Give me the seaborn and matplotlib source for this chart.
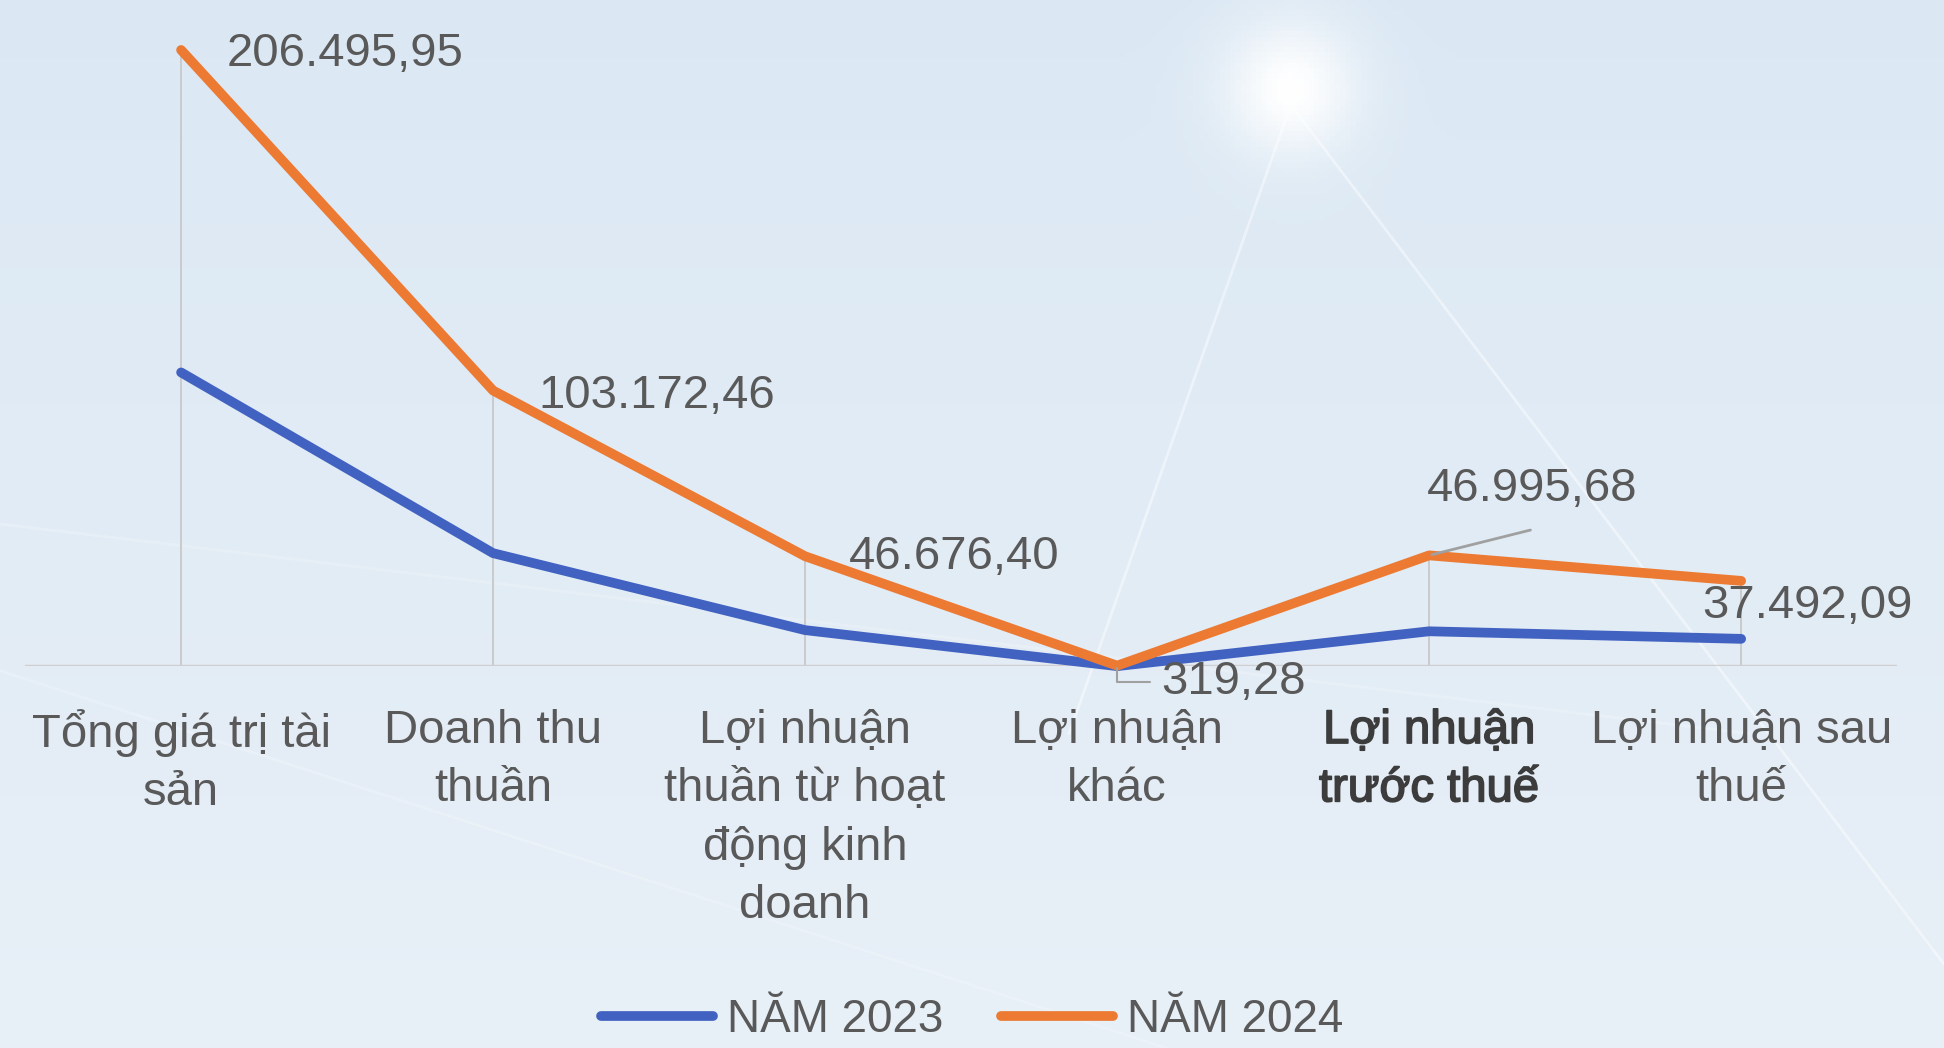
import numpy as np
import pandas as pd
import matplotlib
matplotlib.use("Agg")
import matplotlib.pyplot as plt
import matplotlib.patheffects as pe
import seaborn as sns
from matplotlib.lines import Line2D

# chart data
categories = [
    "Tổng giá trị tài\nsản",
    "Doanh thu\nthuần",
    "Lợi nhuận\nthuần từ hoạt\nđộng kinh\ndoanh",
    "Lợi nhuận\nkhác",
    "Lợi nhuận\ntrước thuế",
    "Lợi nhuận sau\nthuế",
]
values_2023 = [109000, 47800, 17800, -150, 17300, 14000]
values_2024 = [206495.95, 103172.46, 46676.40, 319.28, 46995.68, 37492.09]
series_names = ["NĂM 2023", "NĂM 2024"]
label_texts = ["206.495,95", "103.172,46", "46.676,40", "319,28", "46.995,68", "37.492,09"]

df = pd.DataFrame({
    "cat": categories * 2,
    "value": values_2023 + values_2024,
    "year": [series_names[0]] * 6 + [series_names[1]] * 6,
})

sns.set_style("white")
plt.rcParams["font.family"] = ["Liberation Sans", "DejaVu Sans"]

fig = plt.figure(figsize=(19.44, 10.48), dpi=100)

# soft light-blue background with a glow and faint light streaks
bg = fig.add_axes([0, 0, 1, 1], zorder=-5)
yy, xx = np.mgrid[0:1:200j, 0:1:370j]
top_col = np.array([0.86, 0.91, 0.955])
bot_col = np.array([0.91, 0.94, 0.97])
base = top_col + (bot_col - top_col) * yy[..., None]
glow = np.exp(-(((xx - 0.664) * 1.85) ** 2 + (yy - 0.083) ** 2) / 0.004)
base = base + (1 - base) * glow[..., None]
bg.imshow(base, extent=[0, 1, 0, 1], origin="upper", aspect="auto")
bg.set_axis_off()
for (x0, y0, x1, y1, a) in [(0.664, 0.90, 0.55, 0.30, 0.45), (0.664, 0.90, 1.0, 0.08, 0.45),
                             (0.0, 0.50, 0.9, 0.30, 0.2), (0.0, 0.36, 0.6, 0.0, 0.2)]:
    fig.add_artist(Line2D([x0, x1], [y0, y1], color="white", lw=2, alpha=a, zorder=-4))

ax = fig.add_axes([0.0129, 0.3645, 0.963, 0.5994])
ax.set_facecolor("none")

palette = {series_names[0]: "#4262c2", series_names[1]: "#ec7a32"}
sns.lineplot(data=df, x="cat", y="value", hue="year", palette=palette, sort=False,
             linewidth=7, ax=ax, legend=False, clip_on=False, zorder=3)

# value axis as drawn in the original graphic (slightly compressed at the low end)
p = 1.16
ax.set_yscale("function", functions=(lambda v: np.sign(v) * np.abs(v) ** p,
                                     lambda v: np.sign(v) * np.abs(v) ** (1 / p)))

# drop lines
tops = [max(a, b) for a, b in zip(values_2023, values_2024)]
ax.vlines(range(len(categories)), 0, tops, color="#c8c8c8", lw=1.3, zorder=1)
ax.axhline(0, color="#cfcfcf", lw=2.5, zorder=2)

ax.set_xlim(-0.5, 5.5)
ax.set_ylim(0, 210000)
ax.set_xticks(range(len(categories)))
ax.set_xticklabels(categories, fontsize=34, color="#595959", linespacing=1.42)
lbl = ax.get_xticklabels()[4]
lbl.set_color("#3c3c3c")
lbl.set_path_effects([pe.withStroke(linewidth=1.2, foreground="#3c3c3c")])
ax.tick_params(axis="x", length=0, pad=31)
ax.set_yticks([])
ax.set_xlabel("")
ax.set_ylabel("")
for s in ax.spines.values():
    s.set_visible(False)

# data labels for 2024
offsets = [(46, -4), (45, -5), (44, -1), (44, -16), (-2, 66), (-39, -25)]
for i, (txt, off) in enumerate(zip(label_texts, offsets)):
    ax.annotate(txt, (i, values_2024[i]), xytext=off, textcoords="offset pixels",
                ha="left", va="center", fontsize=34, color="#595959", zorder=5,
                annotation_clip=False)
# leader lines
ax.annotate("", (3, values_2024[3]), xytext=(36, -16), textcoords="offset pixels",
            arrowprops=dict(arrowstyle="-", color="#a0a0a0", lw=1.5,
                            connectionstyle="angle,angleA=0,angleB=90,rad=0"))
ax.annotate("", (4, values_2024[4]), xytext=(104, 26), textcoords="offset pixels",
            arrowprops=dict(arrowstyle="-", color="#a0a0a0", lw=2))

handles = [Line2D([], [], color=palette[n], lw=7, solid_capstyle="round") for n in series_names]
fig.legend(handles, series_names, loc="center", bbox_to_anchor=(0.5, 0.027), ncol=2,
           frameon=False, fontsize=33, handlelength=2.45, handletextpad=0.3,
           columnspacing=1.25, labelcolor="#595959")

fig.savefig("out.png", dpi=100)
